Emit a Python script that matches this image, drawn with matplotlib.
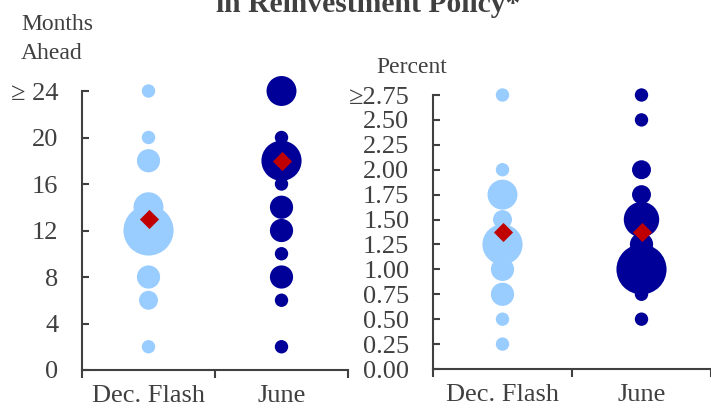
import matplotlib
matplotlib.use("Agg")
import matplotlib.pyplot as plt

# ---- data ----
categories = ["Dec. Flash", "June"]

months_dec_levels = [24, 20, 18, 14, 12, 8, 6, 2]
months_dec_counts = [1, 1, 3, 5, 14, 3, 2, 1]
months_jun_levels = [24, 20, 18, 16, 14, 12, 10, 8, 6, 2]
months_jun_counts = [5, 1, 9, 1, 3, 3, 1, 3, 1, 1]
months_markers = [13, 18]
months_ticks = [0, 4, 8, 12, 16, 20, 24]
months_ticklabels = ["0", "4", "8", "12", "16", "20", "\u2265 24"]

rate_dec_levels = [2.75, 2.0, 1.75, 1.5, 1.25, 1.0, 0.75, 0.5, 0.25]
rate_dec_counts = [1, 1, 5, 2, 9, 3, 3, 1, 1]
rate_jun_levels = [2.75, 2.5, 2.0, 1.75, 1.5, 1.25, 1.0, 0.75, 0.5]
rate_jun_counts = [1, 1, 2, 2, 7, 3, 14, 1, 1]
rate_markers = [1.375, 1.375]
rate_ticks = [0.0, 0.25, 0.5, 0.75, 1.0, 1.25, 1.5, 1.75, 2.0, 2.25, 2.5, 2.75]
rate_ticklabels = ["0.00", "0.25", "0.50", "0.75", "1.00", "1.25", "1.50",
                   "1.75", "2.00", "2.25", "2.50", "\u22652.75"]

# ---- style ----
FONT = ["Liberation Serif", "DejaVu Serif"]
plt.rcParams["font.family"] = FONT
TXT = "#404040"
LIGHT = "#99CCFF"
DARK = "#000099"
RED = "#C00000"
SIZE_PER = 93

W, H = 711, 413
fig = plt.figure(figsize=(W / 100, H / 100), dpi=100)


def px_axes(x0, x1, ytop, ybot):
    return fig.add_axes([x0 / W, (H - ybot) / H, (x1 - x0) / W, (ybot - ytop) / H])


def draw_panel(ax, dec_lv, dec_ct, jun_lv, jun_ct, markers, ticks, ticklabels, ytop):
    xs = [0, 1]
    ax.scatter([xs[0]] * len(dec_lv), dec_lv, s=[c * SIZE_PER for c in dec_ct],
               color=LIGHT, linewidths=0, clip_on=False, zorder=3)
    ax.scatter([xs[1]] * len(jun_lv), jun_lv, s=[c * SIZE_PER for c in jun_ct],
               color=DARK, linewidths=0, clip_on=False, zorder=3)
    ax.scatter(xs, markers, marker="D", s=95, color=RED, linewidths=0,
               clip_on=False, zorder=4)
    ax.set_xlim(-0.5, 1.5)
    ax.set_ylim(0, ytop)
    ax.set_xticks([-0.5, 0.5, 1.5])
    ax.set_xticklabels([])
    ax.set_xticks(xs, minor=True)
    ax.set_xticklabels(categories, minor=True)
    ax.tick_params(axis="x", which="major", direction="out", length=6,
                   width=1.5, color=TXT)
    ax.tick_params(axis="x", which="minor", length=0, pad=11,
                   labelsize=19, labelcolor=TXT)
    ax.set_yticks(ticks)
    ax.set_yticklabels(ticklabels)
    ax.tick_params(axis="y", direction="in", length=5, width=1.5, color=TXT,
                   pad=17, labelsize=19, labelcolor=TXT)
    for s in ("top", "right"):
        ax.spines[s].set_visible(False)
    for s in ("left", "bottom"):
        ax.spines[s].set_color(TXT)
        ax.spines[s].set_linewidth(1.5)
    ax.set_facecolor("none")


ax1 = px_axes(82, 348, 91, 370)
draw_panel(ax1, months_dec_levels, months_dec_counts, months_jun_levels,
           months_jun_counts, months_markers, months_ticks, months_ticklabels, 24)

ax2 = px_axes(433, 711, 95, 369)
draw_panel(ax2, rate_dec_levels, rate_dec_counts, rate_jun_levels,
           rate_jun_counts, rate_markers, rate_ticks, rate_ticklabels, 2.75)

fig.text(21 / W, (H - 30) / H, "Months", ha="left", va="baseline",
         fontsize=17, color=TXT)
fig.text(21 / W, (H - 59) / H, "Ahead", ha="left", va="baseline",
         fontsize=17, color=TXT)
fig.text(376 / W, (H - 73) / H, "Percent", ha="left", va="baseline",
         fontsize=17, color=TXT)
fig.text(368 / W, (H - 12.5) / H, "in Reinvestment Policy*", ha="center",
         va="baseline", fontsize=21.3, fontweight="bold", color=TXT)

fig.savefig("out.png", dpi=100)
